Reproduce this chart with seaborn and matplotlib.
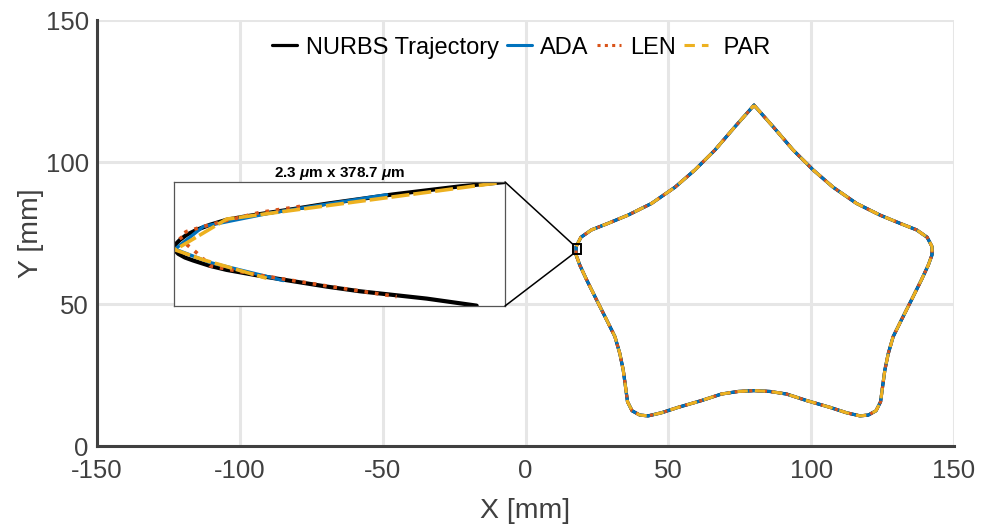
import matplotlib
matplotlib.use("Agg")
import matplotlib.pyplot as plt
from matplotlib.patches import ConnectionPatch, Rectangle
import seaborn as sns

# ---- star-shaped NURBS trajectory (mm), traced clockwise from the top cusp ----
star_x = [80.0, 86.7, 93.7, 100.7, 107.7, 115.9, 124.1, 131.1, 136.9, 140.6,
          142.3, 142.3, 141.0, 138.6, 135.1, 131.6, 128.7, 127.0, 125.8, 125.0,
          124.3, 122.7, 120.0, 117.1, 112.4, 106.6, 98.4, 91.4, 85.6, 80.0,
          74.4, 68.6, 61.6, 53.4, 47.6, 42.9, 40.0, 37.3, 35.7, 35.0,
          34.2, 33.0, 31.3, 28.4, 24.9, 21.4, 19.0, 17.7, 17.7, 19.4,
          23.1, 28.9, 35.9, 44.1, 52.3, 59.3, 66.3, 73.3, 80.0]
star_y = [120.0, 112.4, 104.2, 97.2, 91.1, 85.4, 81.3, 78.4, 76.1, 73.5,
          70.2, 67.3, 63.7, 58.5, 51.4, 44.4, 38.5, 32.6, 26.8, 20.9,
          15.6, 12.4, 10.9, 10.6, 11.7, 13.6, 16.0, 18.3, 19.2, 19.5,
          19.2, 18.3, 16.0, 13.6, 11.7, 10.6, 10.9, 12.4, 15.6, 20.9,
          26.8, 32.6, 38.5, 44.4, 51.4, 58.5, 63.7, 67.3, 70.2, 73.5,
          76.1, 78.4, 81.3, 85.4, 91.1, 97.2, 104.2, 112.4, 120.0]

# ---- zoomed detail near the leftmost point (local units, um) ----
nurbs_zx = [2.300, 1.987, 1.756, 1.524, 1.292, 1.061, 0.829, 0.598, 0.482, 0.366,
            0.250, 0.158, 0.088, 0.042, 0.014, 0.002, 0.007, 0.030, 0.076, 0.134,
            0.250, 0.366, 0.598, 0.829, 1.061, 1.292, 1.524, 1.756, 2.103]
nurbs_zy = [378.7, 365.4, 353.2, 340.9, 326.6, 312.4, 296.0, 280.7, 272.5, 263.4,
            248.0, 232.7, 217.4, 202.1, 189.9, 179.7, 169.4, 159.2, 148.0, 138.8,
            122.5, 110.2, 91.9, 75.5, 59.2, 44.9, 33.7, 22.5, 1.0]

ada_zx = [1.478, 0.667, 0.204, 0.007, 0.250, 0.760]
ada_zy = [339.9, 283.8, 242.9, 173.5, 132.7, 77.6]

len_zx = [0.876, 0.598, 0.366, 0.204, 0.088, 0.037, 0.076, 0.134, 0.192, 0.250,
          0.598, 1.061, 1.547]
len_zy = [304.2, 285.8, 261.3, 242.9, 227.6, 214.4, 191.9, 171.5, 149.0, 122.5,
          93.9, 61.2, 28.6]

par_zx = [2.242, 0.366, 0.007, 0.204, 0.644]
par_zy = [375.6, 265.4, 171.5, 140.9, 84.7]

zoom_w_um = 2.3
zoom_h_um = 378.7
zoom_box_x = [16.5, 19.3]   # mm, marker around the magnified spot
zoom_box_y = [67.5, 71.1]

x_ticks = [-150, -100, -50, 0, 50, 100, 150]
y_ticks = [0, 50, 100, 150]

series = ["NURBS Trajectory", "ADA", "LEN", "PAR"]
legend_labels = ["NURBS Trajectory", "ADA", "LEN", " PAR"]
colors = {"NURBS Trajectory": "#000000", "ADA": "#0072BD",
          "LEN": "#D95319", "PAR": "#EDB120"}

sns.set_theme(style="white")
plt.rcParams["font.family"] = ["Liberation Sans", "DejaVu Sans"]
plt.rcParams["axes.unicode_minus"] = False
plt.rcParams["mathtext.fontset"] = "custom"
plt.rcParams["mathtext.it"] = "Liberation Sans:italic:bold"
plt.rcParams["mathtext.rm"] = "Liberation Sans:bold"

fig = plt.figure(figsize=(9.92, 5.28), dpi=100)
ax = fig.add_axes([0.0978, 0.1553, 0.8639, 0.8068])

ink = "#404040"

# full trajectory: the three approximations sit on top of the reference curve
main_styles = {
    "NURBS Trajectory": dict(linestyle="-", linewidth=2.3),
    "ADA": dict(linestyle="-", linewidth=2.2),
    "LEN": dict(linestyle=(0, (1, 1.4)), linewidth=2.2),
    "PAR": dict(linestyle=(0, (3.4, 2.3)), linewidth=2.2),
}
for name, lab in zip(series, legend_labels):
    sns.lineplot(x=star_x, y=star_y, sort=False, estimator=None, ax=ax,
                 color=colors[name], label=lab, **main_styles[name])

ax.set_xlim(-150, 150)
ax.set_ylim(0, 150)
ax.set_xticks(x_ticks)
ax.set_yticks(y_ticks)
ax.grid(True, color="#e6e6e6", linewidth=2.2)
ax.set_axisbelow(True)
for side in ("top", "right"):
    ax.spines[side].set_visible(False)
for side in ("left", "bottom"):
    ax.spines[side].set_color(ink)
    ax.spines[side].set_linewidth(2.2)
ax.tick_params(axis="both", direction="in", length=7, width=2.2, color=ink,
               labelcolor=ink, labelsize=18.5)
ax.tick_params(axis="x", pad=9)
ax.tick_params(axis="y", pad=6)
ax.set_xlabel("X [mm]", fontsize=20.5, color=ink, labelpad=11)
ax.set_ylabel("Y [mm]", fontsize=20.5, color=ink, labelpad=1)

handles, labels = ax.get_legend_handles_labels()
ax.legend(handles, labels, loc="upper center", bbox_to_anchor=(0.495, 1.0),
          ncol=4, frameon=False, fontsize=17, handlelength=1.05,
          handletextpad=0.35, columnspacing=0.35, borderaxespad=0.3,
          labelcolor="black")

# marker around the magnified spot
ax.add_patch(Rectangle((zoom_box_x[0], zoom_box_y[0]),
                       zoom_box_x[1] - zoom_box_x[0], zoom_box_y[1] - zoom_box_y[0],
                       fill=False, edgecolor="black", linewidth=1.4, zorder=6))

# magnified view
axin = fig.add_axes([0.1754, 0.4205, 0.3337, 0.2348])
axin.set_facecolor("white")
zoom_styles = {
    "NURBS Trajectory": (nurbs_zx, nurbs_zy, dict(linestyle="-", linewidth=3.0)),
    "ADA": (ada_zx, ada_zy, dict(linestyle="-", linewidth=2.4)),
    "LEN": (len_zx, len_zy, dict(linestyle=(0, (1, 1.9)), linewidth=2.6)),
    "PAR": (par_zx, par_zy, dict(linestyle=(0, (5, 1.1)), linewidth=2.6)),
}
for name in series:
    zx, zy, st = zoom_styles[name]
    sns.lineplot(x=zx, y=zy, sort=False, estimator=None, ax=axin,
                 color=colors[name], legend=False, **st)
axin.set_xlim(0, zoom_w_um)
axin.set_ylim(0, zoom_h_um)
axin.set_xticks([])
axin.set_yticks([])
axin.set_xlabel("")
axin.set_ylabel("")
axin.grid(False)
for sp in axin.spines.values():
    sp.set_visible(True)
    sp.set_color("#555555")
    sp.set_linewidth(0.9)
axin.set_title(r"2.3 $\mu$m x 378.7 $\mu$m", fontsize=11, fontweight="bold",
               color="black", pad=3)

# leader lines from the magnified view to the marker
for ya, yb in ((1, zoom_box_y[1]), (0, zoom_box_y[0])):
    con = ConnectionPatch(xyA=(1, ya), coordsA=axin.transAxes,
                          xyB=(zoom_box_x[0], yb), coordsB=ax.transData,
                          color="black", linewidth=1.1)
    fig.add_artist(con)

fig.savefig("out.png", dpi=100)
